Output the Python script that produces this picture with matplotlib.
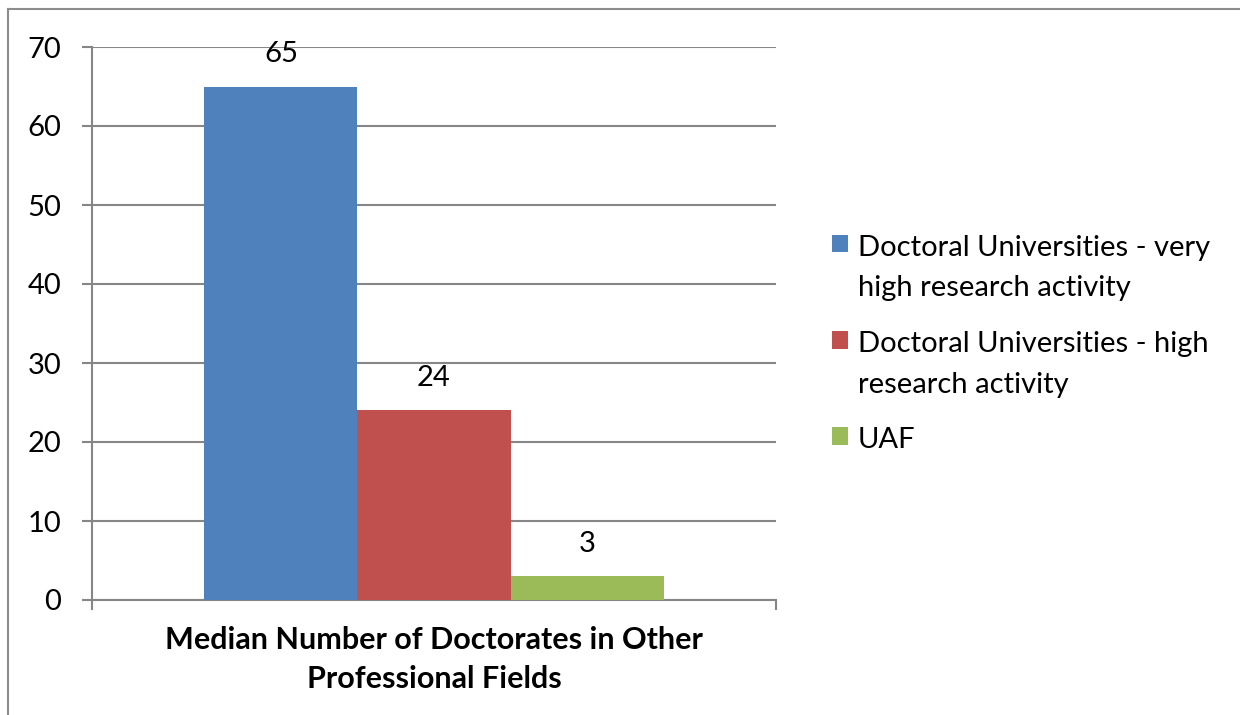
import matplotlib.pyplot as plt
from matplotlib.lines import Line2D
import numpy as np

plt.rcParams["font.family"] = ["Lato", "DejaVu Sans"]

category = "Median Number of Doctorates in Other\nProfessional Fields"
series = [
    "Doctoral Universities - very\nhigh research activity",
    "Doctoral Universities - high\nresearch activity",
    "UAF",
]
values = [65, 24, 3]
colors = ["#4F81BD", "#C0504D", "#9BBB59"]
yticks = [0, 10, 20, 30, 40, 50, 60, 70]

fig = plt.figure(figsize=(12.4, 7.15), dpi=100)
ax = fig.add_axes([92 / 1240, 1 - 600 / 715, 684 / 1240, 553 / 715])

width = 0.2237
offsets = (np.arange(len(values)) - 1) * width
for off, v, c, name in zip(offsets, values, colors, series):
    ax.bar(off, v, width=width, color=c, label=name, zorder=3)
    ax.annotate(str(v), (off, v), xytext=(0, 14), textcoords="offset points",
                ha="center", va="bottom", fontsize=21, zorder=4)

ax.set_xlim(-0.5, 0.5)
ax.set_ylim(0, 70)
ax.set_yticks(yticks)
ax.tick_params(axis="y", labelsize=21, length=7, width=1.5, color="#868686", pad=15)
ax.set_xticks([-0.5, 0.5])
ax.set_xticklabels(["", ""])
ax.tick_params(axis="x", length=7, width=1.5, color="#868686")
ax.grid(axis="y", color="#868686", linewidth=1.5, zorder=0)
for side in ["top", "right"]:
    ax.spines[side].set_visible(False)
for side in ["left", "bottom"]:
    ax.spines[side].set_color("#868686")
    ax.spines[side].set_linewidth(1.5)
ax.set_xlabel(category, fontsize=22, fontweight="bold", labelpad=8, linespacing=1.5)

leg = fig.legend(loc="upper left", bbox_to_anchor=(817 / 1240, 1 - 220 / 715),
                 frameon=False, fontsize=21, handlelength=0.55, handleheight=0.55,
                 handletextpad=0.35, labelspacing=1.02, borderpad=0)
for t in leg.get_texts():
    t.set_linespacing(1.7)
# put the colour squares next to the first line of each label, as in the original
for col in leg._legend_handle_box.get_children():
    for item in col.get_children():
        item.align = "top"

# outer frame (left and top edges visible in the reference)
fig.add_artist(Line2D([8 / 1240, 8 / 1240], [0, 1 - 9 / 715], color="#8c8c8c", linewidth=1.5,
                      transform=fig.transFigure))
fig.add_artist(Line2D([8 / 1240, 1], [1 - 9 / 715, 1 - 9 / 715], color="#8c8c8c", linewidth=1.5,
                      transform=fig.transFigure))

fig.savefig("out.png", dpi=100)
